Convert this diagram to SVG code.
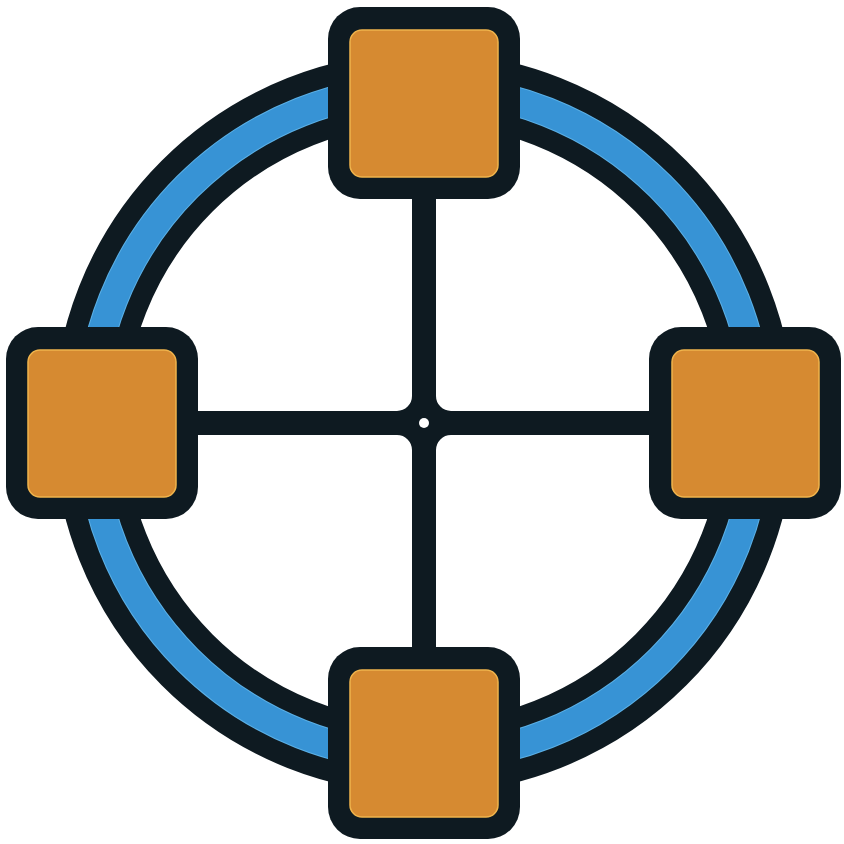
<svg xmlns="http://www.w3.org/2000/svg" width="844" height="844" viewBox="0 0 844 844">
  <style>
    .dark { fill: #0e1a21; }
    .frame { fill: #0e1a21; }
    .core { fill: #d68a31; stroke: #f0b44c; stroke-width: 1.5; }
  </style>
  <rect width="844" height="844" fill="#ffffff"/>
  <g id="ring">
    <circle cx="424" cy="423" r="335" fill="none" stroke="#0e1a21" stroke-width="72"/>
    <circle cx="424" cy="423" r="334.5" fill="none" stroke="#5bb0e6" stroke-width="30"/>
    <circle cx="424" cy="423" r="334.5" fill="none" stroke="#3793d5" stroke-width="28"/>
  </g>
  <g id="connectors">
    <path class="dark" d="M 412 190 L 436 190 L 436 396 A 15 15 0 0 0 451 411 L 660 411 L 660 435 L 451 435 A 15 15 0 0 0 436 450 L 436 656 L 412 656 L 412 450 A 15 15 0 0 0 397 435 L 190 435 L 190 411 L 397 411 A 15 15 0 0 0 412 396 Z"/>
    <circle cx="424" cy="423" r="5" fill="#ffffff"/>
  </g>
  <g id="node-top">
    <rect class="frame" x="328" y="7" width="192" height="192" rx="32"/>
    <rect class="core" x="350" y="30" width="148" height="147" rx="12"/>
  </g>
  <g id="node-left">
    <rect class="frame" x="6" y="327" width="192" height="192" rx="32"/>
    <rect class="core" x="28" y="350" width="148" height="147" rx="12"/>
  </g>
  <g id="node-right">
    <rect class="frame" x="649" y="327" width="192" height="192" rx="32"/>
    <rect class="core" x="672" y="350" width="147" height="147" rx="12"/>
  </g>
  <g id="node-bottom">
    <rect class="frame" x="328" y="647" width="192" height="192" rx="32"/>
    <rect class="core" x="350" y="670" width="148" height="147" rx="12"/>
  </g>
</svg>
